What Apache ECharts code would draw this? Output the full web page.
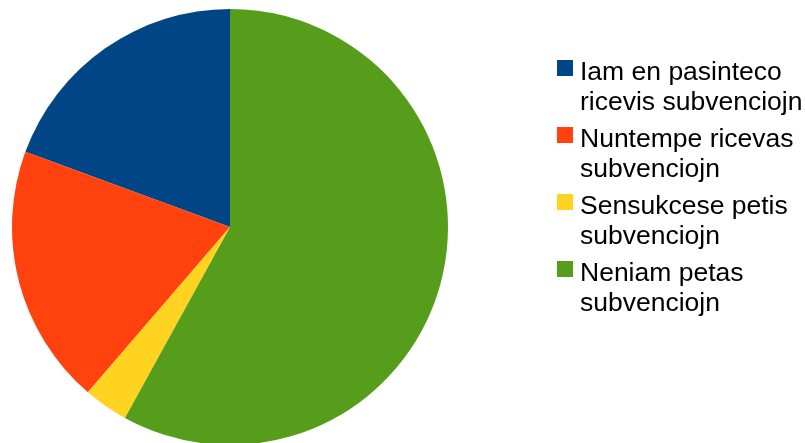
<!DOCTYPE html>
<html lang="eo">
<head>
    <meta charset="utf-8" />
    <title>Subvencioj</title>
    <script src="https://cdn.jsdelivr.net/npm/echarts@6/dist/echarts.min.js"></script>
    <style>
        html, body { margin: 0; padding: 0; background: #fff; }
        #main { width: 805px; height: 443px; }
    </style>
</head>
<body>
    <div id="main"></div>
    <script>
        // kategorioj kaj valoroj (procentoj legitaj el la bildo)
        var categories = ['Iam en pasinteco\nricevis subvenciojn', 'Nuntempe ricevas\nsubvenciojn', 'Sensukcese petis\nsubvenciojn', 'Neniam petas\nsubvenciojn'];
        var values = [19.4, 19.3, 3.3, 58.0];
        var colors = ['#004586', '#ff420e', '#ffd320', '#579d1c'];

        var chart = echarts.init(document.getElementById('main'));

        var pieData = [];
        for (var i = 0; i < categories.length; i++) {
            pieData.push({ name: categories[i], value: values[i], itemStyle: { color: colors[i] } });
        }

        var option = {
            animation: false,
            legend: {
                orient: 'vertical',
                left: 557,
                top: 18,
                padding: 0,
                itemGap: -33,
                itemWidth: 16,
                itemHeight: 16,
                icon: 'rect',
                selectedMode: false,
                data: categories,
                // empty first line so the first text line sits beside the square
                formatter: function (name) {
                    return '{s|}\n' + name;
                },
                textStyle: {
                    fontFamily: 'Liberation Sans',
                    fontSize: 26.5,
                    lineHeight: 30,
                    color: '#000',
                    padding: [0, 0, 0, 2],
                    rich: {
                        s: { lineHeight: 40, fontSize: 26.5 }
                    }
                }
            },
            series: [
                {
                    type: 'pie',
                    center: [230, 227],
                    radius: 218,
                    startAngle: 90,
                    clockwise: false,
                    label: { show: false },
                    labelLine: { show: false },
                    emphasis: { disabled: true },
                    data: pieData
                }
            ]
        };
        chart.setOption(option);
    </script>
</body>
</html>
